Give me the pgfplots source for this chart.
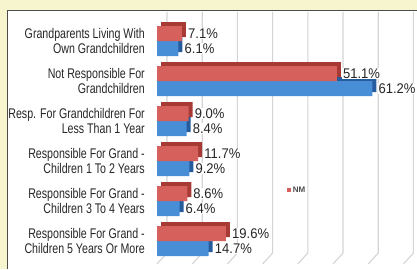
\documentclass[border=0pt]{standalone}
\usepackage{fontspec}
\setmainfont{Liberation Sans}
\newfontfamily\labfont[FakeStretch=0.76]{Liberation Sans}
\newfontfamily\valfont[FakeStretch=0.93]{Liberation Sans}
\usepackage{pgfplots}
\pgfplotsset{compat=1.18}
\definecolor{bgyellow}{RGB}{247,245,205}
\definecolor{redf}{RGB}{214,96,92}
\definecolor{redd}{RGB}{168,58,54}
\definecolor{bluef}{RGB}{72,142,214}
\definecolor{blued}{RGB}{38,92,158}
\definecolor{gridc}{RGB}{212,212,212}
\begin{document}
\begin{tikzpicture}[x=1pt,y=1pt]
\useasboundingbox (0,0) rectangle (417,269);
\clip (0,0) rectangle (417,269);
\fill[bgyellow] (0,0) rectangle (417,269);
\fill[white] (7,0) rectangle (417,259);
\draw[black!70, line width=1pt] (7,0) -- (7,259) -- (418,259);
\begin{axis}[
  at={(157pt,0pt)}, anchor=south west,
  scale only axis, width=260pt, height=259pt,
  xmin=0, xmax=73.86,
  y dir=reverse, ymin=-0.775, ymax=5.7,
  xbar, bar width=15pt,
  axis line style={draw=none},
  major tick length=0pt,
  xtick=\empty,
  ytick={0,...,5},
  yticklabels={{Grandparents Living With\\Own Grandchildren},
               {Not Responsible For\\Grandchildren},
               {Resp. For Grandchildren For\\Less Than 1 Year},
               {Responsible For Grand -\\Children 1 To 2 Years},
               {Responsible For Grand -\\Children 3 To 4 Years},
               {Responsible For Grand -\\Children 5 Years Or More}},
  yticklabel style={align=right, font={\labfont\fontsize{14pt}{14.5pt}\selectfont}, text=black!85, inner sep=0pt, xshift=-12pt},
  clip=false,
  /pgf/number format/assume math mode=true,
  legend style={at={(0.5,0.305)}, anchor=west, draw=none, fill=none,
    font={\bfseries\fontsize{8pt}{9pt}\selectfont}, text=black!70, inner sep=0pt},
  legend image code/.code={\fill[redf] (0pt,-1.8pt) rectangle (3.6pt,1.8pt);},
  every node near coord/.append style={anchor=west, xshift=5pt, fill=white, inner sep=1pt,
    font={\valfont\fontsize{14pt}{15pt}\selectfont}, text=black!85},
]
\pgfplotsinvokeforeach{0,10,...,70}{
  \draw[gridc, line width=1.1pt] ([xshift=10pt]axis cs:#1,-0.725) -- ([xshift=10pt]axis cs:#1,5.3) -- (axis cs:#1,5.575);
}
% 3D depth faces
\addplot[draw=none, fill=blued, bar shift=-3.5pt, xshift=4pt, forget plot]
  coordinates {(6.1,0) (61.2,1) (8.4,2) (9.2,3) (6.4,4) (14.7,5)};
\addplot[draw=none, fill=redd, bar shift=11.5pt, xshift=4pt, forget plot]
  coordinates {(7.1,0) (51.1,1) (9.0,2) (11.7,3) (8.6,4) (19.6,5)};
% front faces
\addplot[draw=none, fill=bluef, bar shift=-7.5pt, forget plot,
  nodes near coords={\pgfmathprintnumber[fixed,fixed zerofill,precision=1]{\pgfplotspointmeta}\%}, point meta=x]
  coordinates {(6.1,0) (61.2,1) (8.4,2) (9.2,3) (6.4,4) (14.7,5)};
\addplot[draw=none, fill=redf, bar shift=7.5pt,
  nodes near coords={\pgfmathprintnumber[fixed,fixed zerofill,precision=1]{\pgfplotspointmeta}\%}, point meta=x]
  coordinates {(7.1,0) (51.1,1) (9.0,2) (11.7,3) (8.6,4) (19.6,5)};
\addlegendentry{NM}
\end{axis}
\end{tikzpicture}
\end{document}
